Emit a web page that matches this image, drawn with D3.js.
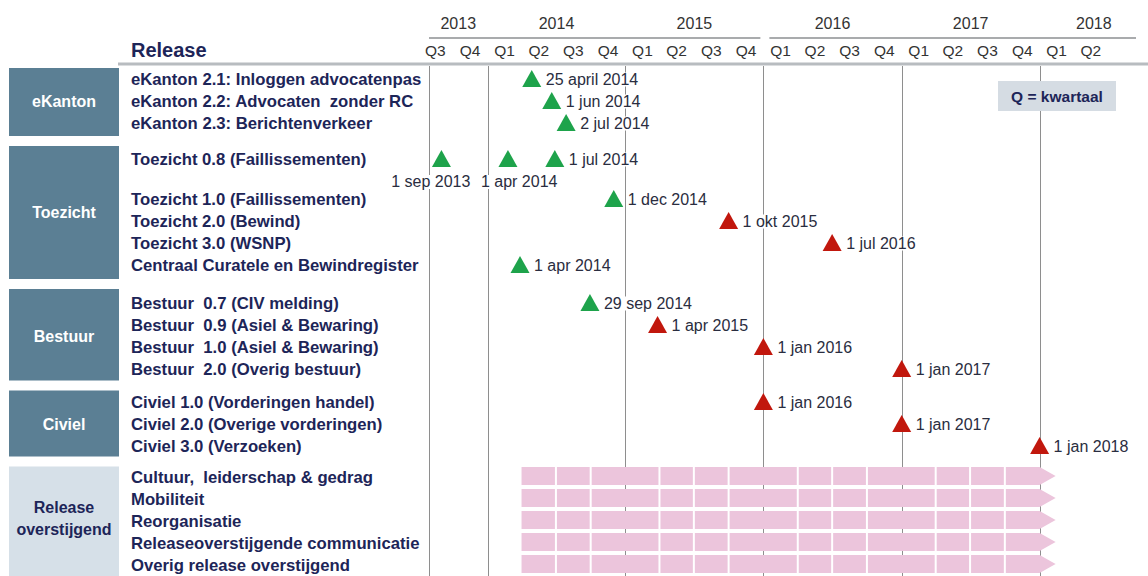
<!DOCTYPE html>
<html><head><meta charset="utf-8">
<script src="https://cdn.jsdelivr.net/npm/d3@7"></script>
<style>
body{margin:0;background:#fff}
svg{display:block;font-family:"Liberation Sans",Arial,sans-serif}
</style>
</head><body>
<svg id="chart" width="1148" height="576"></svg>
<script>
// ---------- DATA ----------
const years = [2013, 2014, 2015, 2016, 2017, 2018];
const quarterLabels = ["Q3","Q4","Q1","Q2","Q3","Q4","Q1","Q2","Q3","Q4","Q1","Q2","Q3","Q4","Q1","Q2","Q3","Q4","Q1","Q2"];
const headerTitle = "Release";
const groupNames = ["eKanton", "Toezicht", "Bestuur", "Civiel", "Release\noverstijgend"];
const rowLabels = [
  "eKanton 2.1: Inloggen advocatenpas",
  "eKanton 2.2: Advocaten  zonder RC",
  "eKanton 2.3: Berichtenverkeer",
  "Toezicht 0.8 (Faillissementen)",
  "Toezicht 1.0 (Faillissementen)",
  "Toezicht 2.0 (Bewind)",
  "Toezicht 3.0 (WSNP)",
  "Centraal Curatele en Bewindregister",
  "Bestuur  0.7 (CIV melding)",
  "Bestuur  0.9 (Asiel & Bewaring)",
  "Bestuur  1.0 (Asiel & Bewaring)",
  "Bestuur  2.0 (Overig bestuur)",
  "Civiel 1.0 (Vorderingen handel)",
  "Civiel 2.0 (Overige vorderingen)",
  "Civiel 3.0 (Verzoeken)",
  "Cultuur,  leiderschap & gedrag",
  "Mobiliteit",
  "Reorganisatie",
  "Releaseoverstijgende communicatie",
  "Overig release overstijgend"
];
const rowGroups = [0,0,0,1,1,1,1,1,2,2,2,2,3,3,3,4,4,4,4,4];

// milestones: row index, plotted date, label text, status, label placement
const milestoneRows   = [0, 1, 2, 3, 3, 3, 4, 5, 6, 7, 8, 9, 10, 11, 12, 13, 14];
const milestoneDates  = ["2014-04-28","2014-06-20","2014-07-28","2013-09-01","2014-02-24","2014-06-28",
                         "2014-12-01","2015-10-01","2016-07-01","2014-03-28","2014-09-29","2015-03-27",
                         "2016-01-01","2017-01-01","2016-01-01","2017-01-01","2018-01-01"];
const milestoneTexts  = ["25 april 2014","1 jun 2014","2 jul 2014","1 sep 2013","1 apr 2014","1 jul 2014",
                         "1 dec 2014","1 okt 2015","1 jul 2016","1 apr 2014","29 sep 2014","1 apr 2015",
                         "1 jan 2016","1 jan 2017","1 jan 2016","1 jan 2017","1 jan 2018"];
const milestoneStatus = ["done","done","done","done","done","done","done","planned","planned","done","done","planned",
                         "planned","planned","planned","planned","planned"];
const milestoneLabelPos = ["right","right","right","belowLeft","belowRight","right","right","right","right","right",
                           "right","right","right","right","right","right","right"];

// release-overarching streams
const streamRows  = [15, 16, 17, 18, 19];
const streamStart = ["2014-04-01","2014-04-01","2014-04-01","2014-04-01","2014-04-01"];
const streamEnd   = ["2018-01-01","2018-01-01","2018-01-01","2018-01-01","2018-01-01"];

const legendText = "Q = kwartaal";

// ---------- LAYOUT ----------
const W = 1148, H = 576;
const parse = d3.timeParse("%Y-%m-%d");
const x = d3.scaleTime()
  .domain([new Date(2013, 6, 1), new Date(2018, 6, 1)])
  .range([418, 1108]);
const plotLeft = 429, gridTop = 66;
const pitch = 22, belowGap = 18;
const groupGaps = [0, 14, 16, 11, 9];   // extra spacing before each group
const navy = "#1d2558", dateColor = "#2a2d40";
const colors = {done: "#1ea34b", planned: "#c1170d"};

const rowHasBelow = rowLabels.map((_, i) =>
  milestoneRows.some((r, k) => r === i && milestoneLabelPos[k].startsWith("below")));
const rowY = [];
rowLabels.forEach((_, i) => {
  if (i === 0) rowY.push(79);
  else {
    let step = pitch;
    if (rowGroups[i] !== rowGroups[i - 1]) step += groupGaps[rowGroups[i]];
    else if (rowHasBelow[i - 1]) step += belowGap;
    rowY.push(rowY[i - 1] + step);
  }
});

const svg = d3.select("#chart");

// ---------- HEADER ----------
const yearStarts = years.map(y => new Date(y, 0, 1));
svg.append("g").selectAll("text").data(years).join("text")
  .attr("x", y => {
    const a = Math.max(x(new Date(y, 0, 1)), plotLeft);
    const b = Math.min(x(new Date(y + 1, 0, 1)), W);
    return (a + b) / 2;
  })
  .attr("y", 29)
  .attr("text-anchor", "middle")
  .attr("font-size", 16)
  .attr("fill", "#333")
  .text(d => d);
const split = x(new Date(2016, 0, 1));
svg.append("line").attr("x1", plotLeft).attr("x2", split - 3).attr("y1", 38).attr("y2", 38)
  .attr("stroke", "#a9abad").attr("stroke-width", 2);
svg.append("line").attr("x1", split + 6).attr("x2", 1136).attr("y1", 38).attr("y2", 38)
  .attr("stroke", "#a9abad").attr("stroke-width", 2);

const quarters = d3.timeMonth.every(3).range(x.domain()[0], x.domain()[1]);
svg.append("g").selectAll("text").data(quarters).join("text")
  .attr("x", d => (x(d) + x(d3.timeMonth.offset(d, 3))) / 2)
  .attr("y", 56)
  .attr("text-anchor", "middle")
  .attr("font-size", 15.5)
  .attr("fill", "#333")
  .text((d, i) => quarterLabels[i]);

svg.append("text").attr("x", 131).attr("y", 57)
  .attr("font-size", 20).attr("font-weight", "bold").attr("fill", navy).text(headerTitle);

svg.append("line").attr("x1", 118).attr("x2", W).attr("y1", 64).attr("y2", 64)
  .attr("stroke", "#b8bcc0").attr("stroke-width", 3);

// ---------- GRID ----------
const gridXs = [plotLeft].concat(yearStarts.slice(1).map(d => x(d)));
svg.append("g").selectAll("line").data(gridXs).join("line")
  .attr("x1", d => Math.round(d) + 0.5).attr("x2", d => Math.round(d) + 0.5)
  .attr("y1", gridTop).attr("y2", H)
  .attr("stroke", "#8e8e8e").attr("stroke-width", 1);

// ---------- GROUP BOXES ----------
const groupInfo = groupNames.map((name, g) => {
  const idx = rowGroups.map((gg, i) => gg === g ? i : -1).filter(i => i >= 0);
  return {name, g, first: rowY[idx[0]], last: rowY[idx[idx.length - 1]]};
});
groupInfo.forEach((d, g) => {
  d.top = g === 0 ? d.first - 11 : (groupInfo[g - 1].last + d.first) / 2 + 5;
  d.bottom = g === groupInfo.length - 1 ? H + 2 : (d.last + groupInfo[g + 1].first) / 2 - 5;
});
const gBox = svg.append("g");
gBox.selectAll("rect").data(groupInfo).join("rect")
  .attr("x", 9).attr("width", 110)
  .attr("y", d => d.top).attr("height", d => d.bottom - d.top)
  .attr("fill", d => d.g === 4 ? "#d6e0e8" : "#5b7f94");
gBox.selectAll("text").data(groupInfo).join("text")
  .attr("x", 64)
  .attr("text-anchor", "middle")
  .attr("font-size", 16).attr("font-weight", "bold")
  .attr("fill", d => d.g === 4 ? navy : "#ffffff")
  .each(function (d) {
    const lines = d.name.split("\n");
    const cy = (d.first + d.last) / 2 - (lines.length > 1 ? 3 : 0);
    const t = d3.select(this);
    lines.forEach((ln, k) => {
      t.append("tspan").attr("x", 64)
        .attr("y", cy + 5.5 + (k - (lines.length - 1) / 2) * 22)
        .text(ln);
    });
  });

// ---------- ROW LABELS ----------
svg.append("g").selectAll("text").data(rowLabels).join("text")
  .attr("x", 131).attr("y", (d, i) => rowY[i] + 5.5)
  .attr("font-size", 16.7).attr("font-weight", "bold")
  .attr("fill", navy)
  .style("white-space", "pre")
  .text(d => d);

// ---------- STREAM ARROWS ----------
const barH = 18, headW = 16;
const gStream = svg.append("g");
streamRows.forEach((r, k) => {
  const x0 = x(parse(streamStart[k])), x1 = x(parse(streamEnd[k]));
  const yc = rowY[r] - 1;
  gStream.append("path")
    .attr("d", `M${x0},${yc - barH / 2}H${x1}L${x1 + headW},${yc}L${x1},${yc + barH / 2}H${x0}Z`)
    .attr("fill", "#ecc5dc");
  const divs = d3.timeMonth.every(3).range(parse(streamStart[k]), parse(streamEnd[k]))
    .filter(d => d.getMonth() !== 0 && +d !== +parse(streamStart[k]));
  gStream.selectAll(null).data(divs).join("line")
    .attr("x1", d => x(d)).attr("x2", d => x(d))
    .attr("y1", yc - barH / 2).attr("y2", yc + barH / 2)
    .attr("stroke", "#ffffff").attr("stroke-width", 2);
});

// ---------- MILESTONES ----------
const gMs = svg.append("g");
const ms = milestoneRows.map((r, k) => ({
  r, date: parse(milestoneDates[k]), text: milestoneTexts[k],
  status: milestoneStatus[k], pos: milestoneLabelPos[k]
}));
ms.forEach(d => {
  const cx = x(d.date), cy = rowY[d.r];
  let tx, ty, anchor;
  if (d.pos === "right") { tx = cx + 14; ty = cy + 5.5; anchor = "start"; }
  else if (d.pos === "belowLeft") { tx = cx + 29; ty = cy + 28; anchor = "end"; }
  else { tx = cx - 27; ty = cy + 28; anchor = "start"; }
  const t = gMs.append("text")
    .attr("x", tx).attr("y", ty)
    .attr("text-anchor", anchor)
    .attr("font-size", 16)
    .attr("fill", dateColor)
    .text(d.text);
  const bb = t.node().getBBox();
  gMs.insert("rect", () => t.node())
    .attr("x", bb.x - 1).attr("y", bb.y + 2).attr("width", bb.width + 2).attr("height", bb.height - 3)
    .attr("fill", "#fff");
});
gMs.selectAll("path.tri").data(ms).join("path")
  .attr("class", "tri")
  .attr("d", d => {
    const cx = x(d.date), cy = rowY[d.r];
    return `M${cx},${cy - 9}L${cx + 9.5},${cy + 8}L${cx - 9.5},${cy + 8}Z`;
  })
  .attr("fill", d => colors[d.status]);

// ---------- LEGEND ----------
svg.append("rect").attr("x", 998).attr("y", 81).attr("width", 118).attr("height", 30)
  .attr("fill", "#d5dce3");
svg.append("text").attr("x", 1057).attr("y", 101.5)
  .attr("text-anchor", "middle").attr("font-size", 15.5).attr("font-weight", "bold")
  .attr("fill", navy).text(legendText);
</script>
</body></html>
